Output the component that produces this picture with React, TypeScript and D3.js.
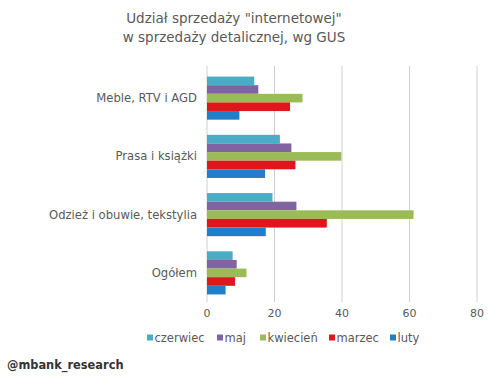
import React from "react";
import * as d3 from "d3";

const categories = ["Meble, RTV i AGD", "Prasa i książki", "Odzież i obuwie, tekstylia", "Ogółem"];
const seriesNames = ["czerwiec", "maj", "kwiecień", "marzec", "luty"];
const czerwiec = [14, 21.6, 19.4, 7.6];
const maj = [15.2, 25, 26.5, 8.8];
const kwiecien = [28.3, 39.8, 61.2, 11.7];
const marzec = [24.6, 26.2, 35.5, 8.3];
const luty = [9.6, 17.2, 17.4, 5.5];
const seriesValues = [czerwiec, maj, kwiecien, marzec, luty];
const colors = ["#4BACC6", "#8064A2", "#9BBB59", "#E0161E", "#1F7FC9"];
const xTicks = [0, 20, 40, 60, 80];

const W = 497;
const H = 380;
const M = { left: 207, right: 20, top: 69, bottom: 78 };

export default function App() {
  const x = d3.scaleLinear().domain([0, 80]).range([M.left, 477]);
  const y0 = d3
    .scaleBand<string>()
    .domain(categories)
    .range([M.top, H - M.bottom])
    .paddingInner(0.26)
    .paddingOuter(0.13);
  const y1 = d3.scaleBand<string>().domain(seriesNames).range([0, y0.bandwidth()]);
  const font = "DejaVu Sans, Verdana, sans-serif";
  const gray = "#595959";
  const legendX = [147, 217, 260, 329, 390];

  return (
    <svg
      width={W}
      height={H}
      style={{ position: "absolute", left: 0, top: 0, background: "#fff" }}
      fontFamily={font}
    >
      <text x={234} y={23} textAnchor="middle" fontSize={13.5} fill={gray}>
        Udział sprzedaży "internetowej"
      </text>
      <text x={234} y={42} textAnchor="middle" fontSize={13.5} fill={gray}>
        w sprzedaży detalicznej, wg GUS
      </text>
      {xTicks.map((t) => (
        <g key={t}>
          <line
            x1={x(t)}
            x2={x(t)}
            y1={M.top - 3}
            y2={H - M.bottom}
            stroke="#D0D0D0"
            strokeWidth={1}
          />
          <text x={x(t)} y={317} textAnchor="middle" fontSize={11} fill={gray}>
            {t}
          </text>
        </g>
      ))}
      {categories.map((c, ci) => (
        <g key={c}>
          <text
            x={197}
            y={(y0(c) as number) + y0.bandwidth() / 2 + 4}
            textAnchor="end"
            fontSize={11.6}
            fill={gray}
          >
            {c}
          </text>
          {seriesNames.map((s, si) => (
            <rect
              key={s}
              x={x(0)}
              y={(y0(c) as number) + (y1(s) as number)}
              width={x(seriesValues[si][ci]) - x(0)}
              height={y1.bandwidth()}
              fill={colors[si]}
            />
          ))}
        </g>
      ))}
      {seriesNames.map((s, si) => (
        <g key={s}>
          <rect x={legendX[si]} y={334.5} width={6} height={6} fill={colors[si]} />
          <text x={legendX[si] + 7.5} y={341.5} fontSize={11.5} fill={gray}>
            {s}
          </text>
        </g>
      ))}
      <text x={7} y={369} fontSize={11.4} fontWeight="bold" fill="#333">
        @mbank_research
      </text>
    </svg>
  );
}
